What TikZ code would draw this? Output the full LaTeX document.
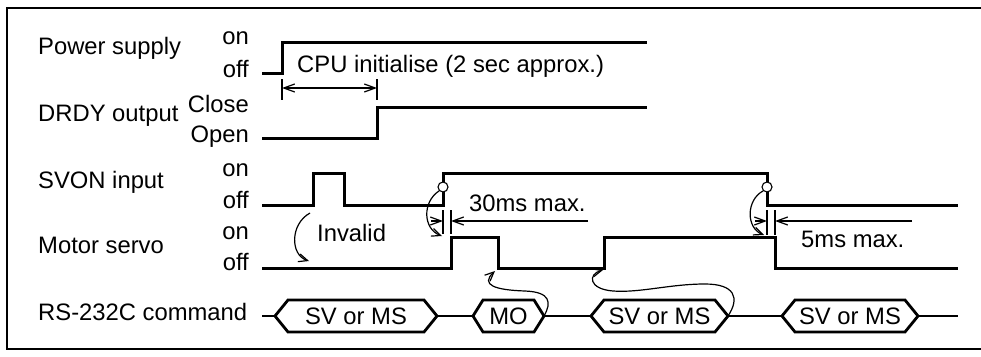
\documentclass[tikz,border=0pt]{standalone}
\usepackage{fontspec}
\setmainfont{Liberation Sans}
\usetikzlibrary{arrows.meta,calc}
\tikzset{
  sig/.style={line width=3pt, line join=miter},
  hexline/.style={line width=2.8pt, line join=miter},
  frameline/.style={line width=2.2pt},
  thinline/.style={line width=1.2pt},
  barb/.style={thinline, -{Straight Barb[length=11pt,width=8pt]}},
  barbboth/.style={thinline, {Straight Barb[length=11pt,width=8pt]}-{Straight Barb[length=11pt,width=8pt]}},
  curvarrow/.style={thinline, -{Straight Barb[length=9pt,width=8pt]}},
  rowlab/.style={anchor=mid west, inner sep=0pt},
  statelab/.style={anchor=mid east, inner sep=0pt},
  txt/.style={anchor=mid west, inner sep=0pt},
  hextext/.style={inner sep=0pt},
  ring/.style={circle, draw, fill=white, inner sep=0pt, minimum size=10pt, line width=1.1pt}
}
\newcommand{\myhex}[5]{%
  \node[hextext] (#1) at (#2,316) {#5};
  \coordinate (#1w) at ({#2-#3},316);
  \coordinate (#1e) at ({#2+#3},316);
  \draw[hexline] (#1w) -- ++(#4,-16) -- ($(#1e)+(-#4,-16)$) -- (#1e) -- ++(-#4,16) -- ($(#1w)+(#4,16)$) -- cycle;
}
\begin{document}
\begin{tikzpicture}[x=1pt, y=-1pt, font=\fontsize{23.8}{28}\selectfont]
\useasboundingbox (0,0) rectangle (981,356);
% frame (right side runs off the picture)
\draw[frameline] (995,8) -- (7,8) -- (7,349) -- (995,349);

% row labels
\node[rowlab] (lps) at (38,52) {Power supply};
\node[rowlab] (ldr) at (38,119) {DRDY output};
\node[rowlab] (lsv) at (38,186) {SVON input};
\node[rowlab] (lms) at (38,251) {Motor servo};
\node[rowlab] (lrs) at (38,318) {RS-232C command};

% state labels
\node[statelab] (s1) at (249,42) {on};
\node[statelab] (s2) at (249,75) {off};
\node[statelab] (s3) at (249,110) {Close};
\node[statelab] (s4) at (249,140) {Open};
\node[statelab] (s5) at (249,174) {on};
\node[statelab] (s6) at (249,206) {off};
\node[statelab] (s7) at (249,237) {on};
\node[statelab] (s8) at (249,268) {off};

% waveforms
\draw[sig] (262,73) -- (282,73) -- (282,42) -- (647,42);
\draw[sig] (262,138) -- (377,138) -- (377,107) -- (647,107);
\draw[sig] (262,205) -- (313,205) -- (313,173) -- (344,173) -- (344,205) -- (443,205) -- (443,173) -- (767,173) -- (767,205) -- (958,205);
\draw[sig] (262,268) -- (451,268) -- (451,237) -- (498,237) -- (498,268) -- (604,268) -- (604,237) -- (775,237) -- (775,268) -- (958,268);

% CPU initialise
\node[txt] (cpu) at (297,70) {CPU initialise (2 sec approx.)};
\coordinate (ta1) at (282,79); \coordinate (tb1) at (282,100);
\coordinate (ta2) at (377,79); \coordinate (tb2) at (377,100);
\draw[thinline] (ta1) -- (tb1);
\draw[thinline] (ta2) -- (tb2);
\coordinate (da) at (282,88); \coordinate (db) at (377,88);
\draw[barbboth] (da) -- (db);

% 30ms max
\node[txt] (t30) at (469,209) {30ms max.};
\coordinate (u1) at (443,210); \coordinate (v1) at (443,234);
\coordinate (u2) at (451,210); \coordinate (v2) at (451,234);
\draw[thinline] (u1) -- (v1);
\draw[thinline] (u2) -- (v2);
\coordinate (a30s) at (431,221); \coordinate (a30t) at (443,221);
\coordinate (b30s) at (588,221); \coordinate (b30t) at (451,221);
\draw[barb] (a30s) -- (a30t);
\draw[barb] (b30s) -- (b30t);

% 5ms max
\node[txt] (t5) at (801,245) {5ms max.};
\coordinate (u3) at (767,210); \coordinate (v3) at (767,235);
\coordinate (u4) at (775,210); \coordinate (v4) at (775,235);
\draw[thinline] (u3) -- (v3);
\draw[thinline] (u4) -- (v4);
\coordinate (a5s) at (755,221); \coordinate (a5t) at (767,221);
\coordinate (b5s) at (912,221); \coordinate (b5t) at (775,221);
\draw[barb] (a5s) -- (a5t);
\draw[barb] (b5s) -- (b5t);

% rings and their arrows
\node[ring] (c1) at (443,187) {};
\node[ring] (c2) at (767,187) {};
\coordinate (m1) at (442,236);
\coordinate (m2) at (764,235);
\draw[curvarrow] (c1.225) .. controls (422,202) and (423,229) .. (m1);
\draw[curvarrow] (c2.225) .. controls (746,200) and (746,228) .. (m2);

% Invalid
\node[txt] (inv) at (317,239) {Invalid};
\coordinate (i1) at (310,213);
\coordinate (i2) at (309,261);
\draw[curvarrow] (i1) .. controls (290,224) and (290,255) .. (i2);

% RS-232C command
\myhex{h1}{356}{81}{13}{SV or MS}
\myhex{h2}{508.5}{35.5}{10}{MO}
\myhex{h3}{659.5}{68.5}{13}{SV or MS}
\myhex{h4}{850}{68}{13}{SV or MS}
\coordinate (rs0) at (262,316);
\coordinate (rs9) at (958,316);
\draw[hexline] (rs0) -- (h1w);
\draw[hexline] (h1e) -- (h2w);
\draw[hexline] (h2e) -- (h3w);
\draw[hexline] (h3e) -- (h4w);
\draw[hexline] (h4e) -- (rs9);

% command -> servo arrows
\coordinate (mo) at (495,271);
\coordinate (sv) at (603,270);
\draw[curvarrow] (h2e) .. controls (552,302) and (550,292) .. (525,291) .. controls (495,290) and (480,285) .. (mo);
\draw[curvarrow] (h3e) .. controls (740,298) and (735,284) .. (705,284) .. controls (670,284) and (640,293) .. (613,291) .. controls (588,289) and (588,274) .. (sv);
\end{tikzpicture}
\end{document}
